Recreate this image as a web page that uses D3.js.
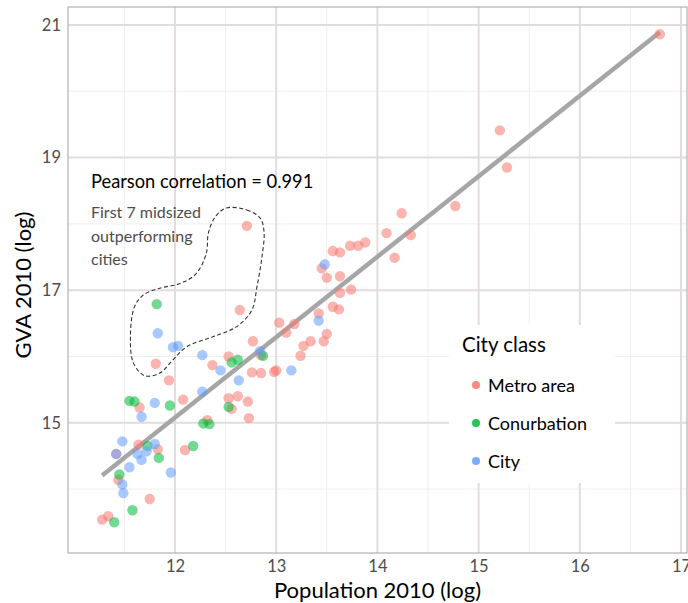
<!DOCTYPE html>
<html>
<head>
<meta charset="utf-8">
<script src="https://cdn.jsdelivr.net/npm/d3@7"></script>
<style>
  body { margin: 0; background: #fff; }
  text { font-family: Lato, "Open Sans", sans-serif; }
</style>
</head>
<body>
<svg id="chart"></svg>
<script>
var width = 688,
    height = 603,
    margin = {top: 7, right: 1, bottom: 50, left: 68};

// city classes and colours (ggplot hues)
var classes = ["Metro area", "Conurbation", "City"];
var colours = ["#F8766D", "#00BA38", "#619CFF"];

// [log population, log GVA]
var metro = [
  [16.79, 20.86], [15.21, 19.41], [15.28, 18.85], [14.77, 18.27], [14.24, 18.16],
  [14.09, 17.86], [14.33, 17.83], [14.17, 17.49], [13.56, 17.59], [13.63, 17.57],
  [13.73, 17.67], [13.81, 17.67], [13.88, 17.72], [13.45, 17.33], [13.50, 17.19],
  [13.63, 17.21], [13.74, 17.01], [13.63, 16.96], [13.56, 16.75], [13.62, 16.71],
  [13.42, 16.65], [13.50, 16.34], [13.47, 16.23], [13.34, 16.23], [13.27, 16.16],
  [13.24, 16.01], [13.03, 16.51], [13.18, 16.49], [13.10, 16.36], [12.71, 17.97],
  [12.64, 16.70], [12.77, 16.23], [12.53, 16.00], [12.37, 15.87], [12.76, 15.76],
  [12.85, 15.75], [13.00, 15.79], [12.98, 15.77], [12.85, 16.02], [11.81, 15.89],
  [11.94, 15.64], [11.65, 15.23], [12.08, 15.35], [12.53, 15.37], [12.62, 15.40],
  [12.72, 15.32], [12.56, 15.21], [12.73, 15.07], [12.32, 15.04], [11.64, 14.67],
  [11.83, 14.60], [11.42, 14.53], [12.10, 14.59], [11.44, 14.14], [11.75, 13.85],
  [11.28, 13.54], [11.34, 13.59]
];
var conurbation = [
  [11.82, 16.79], [12.56, 15.91], [12.62, 15.95], [12.87, 16.01], [11.55, 15.33],
  [11.60, 15.32], [11.95, 15.26], [12.53, 15.24], [12.28, 14.99], [12.34, 14.98],
  [11.73, 14.65], [12.18, 14.65], [11.84, 14.47], [11.45, 14.22], [11.58, 13.68],
  [11.40, 13.50]
];
var city = [
  [11.83, 16.35], [11.98, 16.14], [12.03, 16.16], [12.27, 16.02], [12.45, 15.79],
  [12.84, 16.08], [13.15, 15.79], [12.63, 15.64], [12.27, 15.47], [11.80, 15.30],
  [11.67, 15.09], [13.42, 16.54], [13.48, 17.39], [11.48, 14.72], [11.42, 14.53],
  [11.80, 14.68], [11.63, 14.53], [11.67, 14.44], [11.72, 14.57], [11.55, 14.33],
  [11.96, 14.25], [11.48, 14.07], [11.49, 13.94]
];

// outline round the outperforming cities
var hull = [
  [12.51, 18.24], [12.71, 18.21], [12.84, 18.09], [12.88, 17.88], [12.86, 17.51],
  [12.81, 17.05], [12.76, 16.70], [12.61, 16.45], [12.38, 16.30], [12.12, 16.15],
  [11.98, 15.95], [11.85, 15.75], [11.70, 15.71], [11.59, 15.90], [11.56, 16.30],
  [11.60, 16.75], [11.69, 16.93], [11.85, 17.03], [12.05, 17.10], [12.21, 17.25],
  [12.31, 17.56], [12.33, 17.86], [12.40, 18.11]
];

var xTicks = [12, 13, 14, 15, 16, 17],
    xMinor = [11.5, 12.5, 13.5, 14.5, 15.5, 16.5],
    yTicks = [15, 17, 19, 21],
    yMinor = [14, 16, 18, 20];

var points = [];
[metro, conurbation, city].forEach(function(list, i) {
  list.forEach(function(p) { points.push({x: p[0], y: p[1], cls: i}); });
});

var svg = d3.select("#chart").attr("width", width).attr("height", height);

var x = d3.scaleLinear().domain([10.943, 17.059]).range([margin.left, width - margin.right]);
var y = d3.scaleLinear().domain([13.036, 21.271]).range([height - margin.bottom, margin.top]);

var x0 = margin.left, x1 = width - margin.right,
    y0 = margin.top, y1 = height - margin.bottom;

// grid
var grid = svg.append("g");
grid.selectAll(".xminor").data(xMinor).enter().append("line")
  .attr("x1", d => x(d)).attr("x2", d => x(d)).attr("y1", y0).attr("y2", y1)
  .attr("stroke", "#f1eded").attr("stroke-width", 1);
grid.selectAll(".yminor").data(yMinor).enter().append("line")
  .attr("y1", d => y(d)).attr("y2", d => y(d)).attr("x1", x0).attr("x2", x1)
  .attr("stroke", "#f1eded").attr("stroke-width", 1);
grid.selectAll(".xmajor").data(xTicks).enter().append("line")
  .attr("x1", d => x(d)).attr("x2", d => x(d)).attr("y1", y0).attr("y2", y1)
  .attr("stroke", "#e2dcdc").attr("stroke-width", 2);
grid.selectAll(".ymajor").data(yTicks).enter().append("line")
  .attr("y1", d => y(d)).attr("y2", d => y(d)).attr("x1", x0).attr("x2", x1)
  .attr("stroke", "#e2dcdc").attr("stroke-width", 2);

svg.append("rect")
  .attr("x", x0).attr("y", y0).attr("width", x1 - x0).attr("height", y1 - y0)
  .attr("fill", "none").attr("stroke", "#b5b0b0").attr("stroke-width", 1.2);

// axes (labels only, no tick marks)
var xAxis = svg.append("g").attr("transform", "translate(0," + y1 + ")")
  .call(d3.axisBottom(x).tickValues(xTicks).tickFormat(d3.format("d")).tickSize(0).tickPadding(7));
var yAxis = svg.append("g").attr("transform", "translate(" + x0 + ",0)")
  .call(d3.axisLeft(y).tickValues(yTicks).tickFormat(d3.format("d")).tickSize(0).tickPadding(7));
[xAxis, yAxis].forEach(function(a) {
  a.select(".domain").remove();
  a.selectAll(".tick line").remove();
  a.selectAll(".tick text").attr("fill", "#4d4d4d")
    .style("font-size", "16.5px").style("font-family", "Lato, sans-serif");
});

svg.append("text")
  .attr("x", (x0 + x1) / 2).attr("y", 598)
  .attr("text-anchor", "middle").style("font-size", "22px").attr("fill", "#000")
  .text("Population 2010 (log)");
svg.append("text")
  .attr("transform", "translate(31," + 285 + ") rotate(-90)")
  .attr("text-anchor", "middle").style("font-size", "22px").attr("fill", "#000")
  .text("GVA 2010 (log)");

// least squares fit
var mx = d3.mean(points, d => d.x), my = d3.mean(points, d => d.y);
var slope = d3.sum(points, d => (d.x - mx) * (d.y - my)) / d3.sum(points, d => (d.x - mx) * (d.x - mx));
var icept = my - slope * mx;
var xr = d3.extent(points, d => d.x);
svg.append("line")
  .attr("x1", x(xr[0])).attr("y1", y(icept + slope * xr[0]))
  .attr("x2", x(xr[1])).attr("y2", y(icept + slope * xr[1]))
  .attr("stroke", "#a6a6a6").attr("stroke-width", 4.5);

svg.append("g").selectAll("circle")
  .data(points)
  .enter().append("circle")
  .attr("cx", d => x(d.x)).attr("cy", d => y(d.y)).attr("r", 5.2)
  .attr("fill", d => colours[d.cls]).attr("fill-opacity", 0.55);

// annotation
svg.append("path")
  .datum(hull)
  .attr("d", d3.line().x(d => x(d[0])).y(d => y(d[1])).curve(d3.curveCatmullRomClosed))
  .attr("fill", "none").attr("stroke", "#333").attr("stroke-width", 1.1)
  .attr("stroke-dasharray", "4,2.5");

svg.append("text").attr("x", 91).attr("y", 188)
  .style("font-size", "18.3px").attr("fill", "#000")
  .text("Pearson correlation = 0.991");
var note = ["First 7 midsized", "outperforming", "cities"];
svg.append("g").selectAll("text").data(note).enter().append("text")
  .attr("x", 91).attr("y", (d, i) => 218 + i * 23.5)
  .style("font-size", "16px").attr("fill", "#4d4d4d")
  .text(d => d);

// legend
var legend = svg.append("g");
legend.append("rect").attr("x", 449).attr("y", 325).attr("width", 166).attr("height", 158)
  .attr("fill", "#fff");
legend.append("text").attr("x", 462).attr("y", 352)
  .style("font-size", "20.5px").attr("fill", "#000").text("City class");
var item = legend.selectAll(".item").data(classes).enter().append("g")
  .attr("transform", (d, i) => "translate(0," + (385 + i * 38) + ")");
item.append("circle").attr("cx", 476).attr("cy", 0).attr("r", 4)
  .attr("fill", (d, i) => colours[i]).attr("fill-opacity", 0.85);
item.append("text").attr("x", 488).attr("y", 6.5)
  .style("font-size", "18px").attr("fill", "#000").text(d => d);
</script>
</body>
</html>
